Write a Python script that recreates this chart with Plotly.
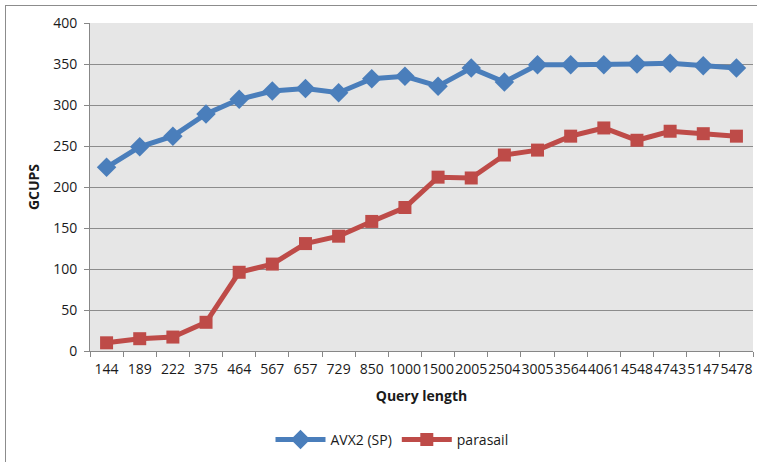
import plotly.graph_objects as go

# Query lengths (categorical x axis)
query_lengths = ["144", "189", "222", "375", "464", "567", "657", "729", "850", "1000",
                 "1500", "2005", "2504", "3005", "3564", "4061", "4548", "4743", "5147", "5478"]

# Throughput in GCUPS
avx2_sp = [224, 249, 262, 289, 307, 317, 320, 315, 332, 335,
           323, 345, 328, 349, 349, 349, 350, 351, 348, 345]
parasail = [10, 15, 17, 35, 96, 106, 131, 140, 158, 175,
            212, 211, 239, 245, 262, 272, 257, 268, 265, 262]

W, H = 757, 462
L, R, T, B = 90, 4, 23, 111
pw, ph = W - L - R, H - T - B

FONT = "Open Sans, Liberation Sans, sans-serif"
AXIS_GRAY = "#878787"

fig = go.Figure()
fig.add_trace(go.Scatter(
    x=query_lengths, y=avx2_sp, name="AVX2 (SP)", mode="lines+markers",
    line=dict(color="#4a7ebb", width=5),
    marker=dict(symbol="diamond", size=15, color="#4a7ebb"),
))
fig.add_trace(go.Scatter(
    x=query_lengths, y=parasail, name="parasail", mode="lines+markers",
    line=dict(color="#be4b48", width=5),
    marker=dict(symbol="square", size=13, color="#be4b48"),
))

# Paper-space helpers for the outer frame (left and top edges)
px = lambda v: (v - L) / pw
py = lambda v: 1 - (v - T) / ph

fig.update_layout(
    width=W, height=H,
    margin=dict(l=L, r=R, t=T, b=B),
    paper_bgcolor="white",
    plot_bgcolor="#e6e6e6",
    font=dict(family=FONT, size=14, color="#1a1a1a"),
    showlegend=True,
    legend=dict(orientation="h", x=px(392), xanchor="center",
                y=py(440), yanchor="middle",
                font=dict(size=14), itemwidth=50, tracegroupgap=0),
    xaxis=dict(
        type="category", range=[-0.5, len(query_lengths) - 0.5],
        tickangle=0, tickson="boundaries",
        ticks="outside", ticklen=5, tickcolor=AXIS_GRAY,
        showline=True, linecolor=AXIS_GRAY, linewidth=1,
        showgrid=False, zeroline=False,
        tickfont=dict(size=14), ticklabelstandoff=5,
        title=dict(text="<b>Query length</b>", font=dict(size=14), standoff=14),
    ),
    yaxis=dict(
        range=[0, 400], dtick=50, tick0=0,
        ticks="outside", ticklen=5, tickcolor=AXIS_GRAY,
        showline=True, linecolor=AXIS_GRAY, linewidth=1,
        showgrid=True, gridcolor="#8c8c8c", gridwidth=1,
        zeroline=False,
        tickfont=dict(size=14), ticklabelstandoff=4,
        title=dict(text="<b>GCUPS</b>", font=dict(size=14), standoff=10),
    ),
    shapes=[
        dict(type="line", xref="paper", yref="paper",
             x0=px(5.5), x1=px(5.5), y0=py(5), y1=py(470),
             line=dict(color="#8c8c8c", width=1), layer="below"),
        dict(type="line", xref="paper", yref="paper",
             x0=px(5), x1=px(770), y0=py(5.5), y1=py(5.5),
             line=dict(color="#8c8c8c", width=1), layer="below"),
    ],
)

fig.write_html("out.html")
